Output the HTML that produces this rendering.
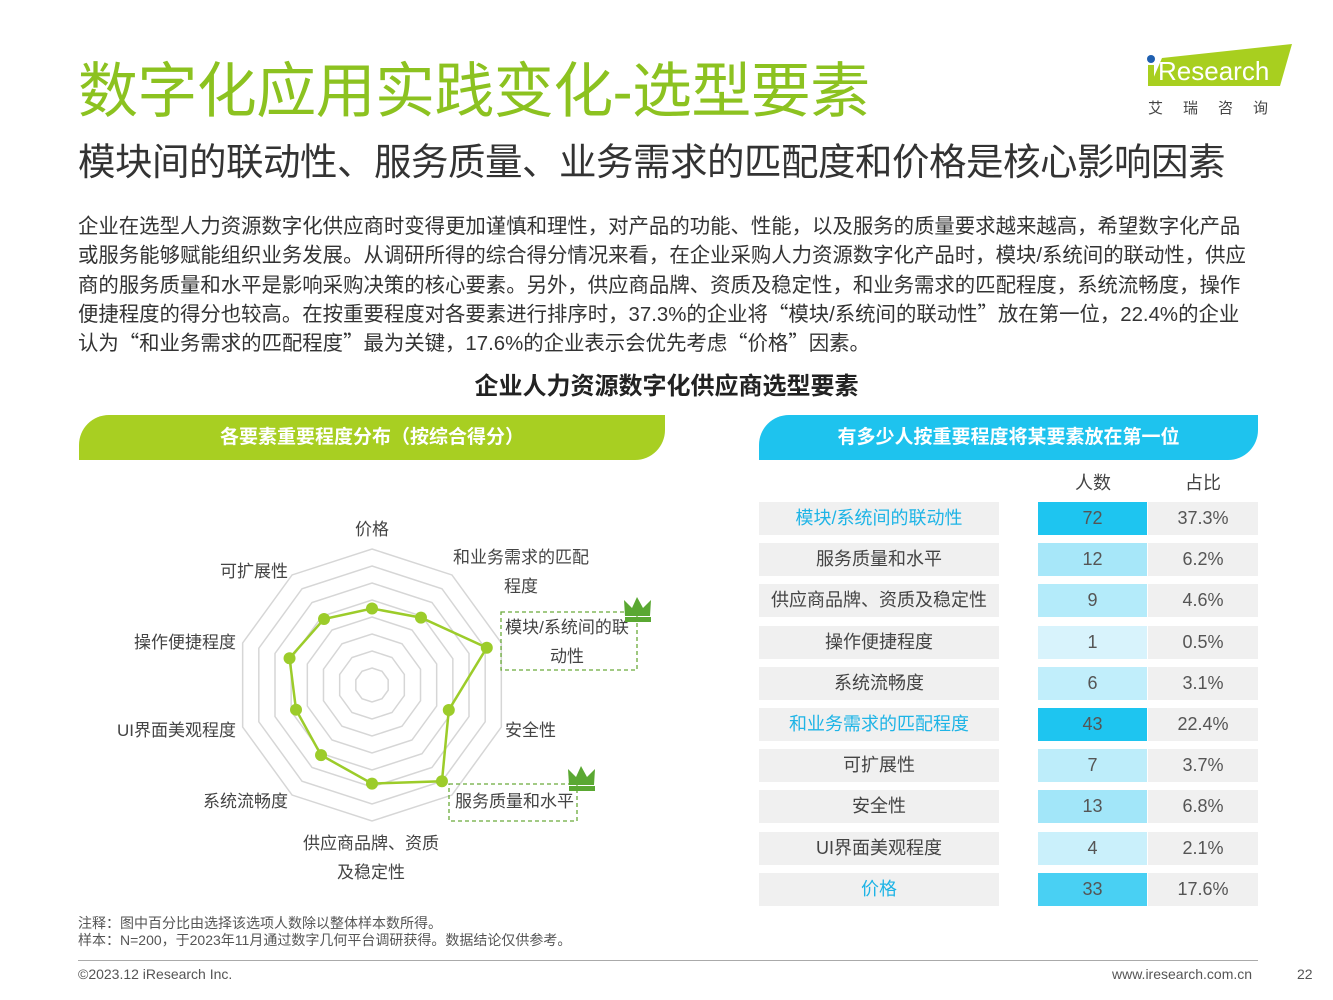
<!DOCTYPE html>
<html><head><meta charset="utf-8">
<style>
body{margin:0;width:1333px;height:1000px;background:#fff;position:relative;overflow:hidden;font-family:"Liberation Sans","Noto Sans CJK SC",sans-serif;color:#333}
.abs{position:absolute}
#title{left:78px;top:54px;font-size:60px;color:#8cc220;letter-spacing:-0.6px;white-space:nowrap;line-height:76px}
#subtitle{left:78px;top:136px;font-size:37.5px;color:#333;white-space:nowrap;line-height:52px;letter-spacing:-0.5px}
#body{left:78px;top:213px;font-size:20.4px;line-height:29.3px;color:#333;white-space:nowrap}
.q{font-family:"Noto Sans CJK SC",sans-serif;line-height:0}
#ctitle{left:0;width:1333px;top:366px;text-align:center;font-size:24px;font-weight:bold;color:#222}
.banner{height:45px;top:415px;color:#fff;font-weight:bold;font-size:19px;text-align:center;line-height:45px;border-radius:30px 0 30px 0}
.cell{position:absolute;height:33px;line-height:33px;text-align:center;font-size:18px;color:#444}
</style></head><body>
<div class="abs" id="title">数字化应用实践变化-选型要素</div>
<div class="abs" id="subtitle">模块间的联动性、服务质量、业务需求的匹配度和价格是核心影响因素</div>
<div class="abs" id="body">企业在选型人力资源数字化供应商时变得更加谨慎和理性，对产品的功能、性能，以及服务的质量要求越来越高，希望数字化产品<br>或服务能够赋能组织业务发展。从调研所得的综合得分情况来看，在企业采购人力资源数字化产品时，模块/系统间的联动性，供应<br>商的服务质量和水平是影响采购决策的核心要素。另外，供应商品牌、资质及稳定性，和业务需求的匹配程度，系统流畅度，操作<br>便捷程度的得分也较高。在按重要程度对各要素进行排序时，37.3%的企业将<span class="q">“</span>模块/系统间的联动性<span class="q">”</span>放在第一位，22.4%的企业<br>认为<span class="q">“</span>和业务需求的匹配程度<span class="q">”</span>最为关键，17.6%的企业表示会优先考虑<span class="q">“</span>价格<span class="q">”</span>因素。</div>
<div class="abs" id="ctitle">企业人力资源数字化供应商选型要素</div>

<div class="abs" style="left:1140px;top:42px;width:160px;height:80px">
<svg width="160" height="80"><polygon points="22,16 152,2 140,44 10,44" fill="#a8cf1f"/><circle cx="11" cy="17" r="4" fill="#1f5fb0"/><rect x="8" y="23" width="6" height="21" fill="#a8cf1f"/><text x="18" y="38" font-size="26" fill="#fff" font-family="Liberation Sans">Research</text><text x="8" y="71" font-size="15" fill="#444" font-family="Noto Sans CJK SC" letter-spacing="20">艾瑞咨询</text></svg>
</div>

<div class="abs banner" style="left:79px;width:586px;background:#a8cf22">各要素重要程度分布（按综合得分）</div>
<div class="abs banner" style="left:759px;width:499px;background:#1ec3ee">有多少人按重要程度将某要素放在第一位</div>

<svg class="abs" id="radar" style="left:0;top:0" width="700" height="920"></svg>

<div id="table"></div>
<div class="cell" style="left:1038px;width:110px;top:467px">人数</div>
<div class="cell" style="left:1148px;width:110px;top:467px">占比</div>

<div class="abs" style="left:78px;top:915px;font-size:14px;line-height:17px;color:#555">注释：图中百分比由选择该选项人数除以整体样本数所得。<br>样本：N=200，于2023年11月通过数字几何平台调研获得。数据结论仅供参考。</div>
<div class="abs" style="left:78px;top:960px;width:1180px;height:1px;background:#aaa"></div>
<div class="abs" style="left:78px;top:966px;font-size:14px;color:#555">©2023.12 iResearch Inc.</div>
<div class="abs" style="left:1112px;top:966px;font-size:14px;color:#555">www.iresearch.com.cn</div>
<div class="abs" style="left:1297px;top:966px;font-size:14px;color:#555">22</div>

<script>
const radarLabels=[["价格"],["和业务需求的匹配","程度"],["模块/系统间的联","动性"],["安全性"],["服务质量和水平"],["供应商品牌、资质","及稳定性"],["系统流畅度"],["UI界面美观程度"],["操作便捷程度"],["可扩展性"]];
const radarValues=[4.5,4.9,7.1,4.75,7.0,5.8,5.1,4.7,5.1,4.8];
const radarMax=8;
const tableLabels=["模块/系统间的联动性","服务质量和水平","供应商品牌、资质及稳定性","操作便捷程度","系统流畅度","和业务需求的匹配程度","可扩展性","安全性","UI界面美观程度","价格"];
const tableCounts=[72,12,9,1,6,43,7,13,4,33];
const tablePcts=["37.3%","6.2%","4.6%","0.5%","3.1%","22.4%","3.7%","6.8%","2.1%","17.6%"];
const highlight=[true,false,false,false,false,true,false,false,false,true];

const NS="http://www.w3.org/2000/svg";
const svg=document.getElementById('radar');
const cx=372,cy=685,R=136;
function pt(i,v){const a=(i*36-90)*Math.PI/180;const r=v/radarMax*R;return [cx+r*Math.cos(a),cy+r*Math.sin(a)];}
function mk(t,attrs){const e=document.createElementNS(NS,t);for(const k in attrs)e.setAttribute(k,attrs[k]);svg.appendChild(e);return e;}
for(let k=1;k<=radarMax;k++){
  const p=mk('polygon',{points:radarLabels.map((_,i)=>pt(i,k).join(',')).join(' '),fill:'none',stroke:'#d6d6d6','stroke-width':1.5});
  
  
}
const line=mk('polygon',{points:radarValues.map((v,i)=>pt(i,v).join(',')).join(' '),fill:'none',stroke:'#9ccc2a','stroke-width':2.5});


radarValues.forEach((v,i)=>{const [x,y]=pt(i,v);const c=mk('circle',{cx:x,cy:y,r:6,fill:'#9ccc2a'});
  
  
});
const labelPos=[[372,535,'middle'],[521,563,'middle'],[567,633,'middle'],[505,736,'start'],[455,807,'start'],[371,849,'middle'],[288,807,'end'],[236,736,'end'],[236,648,'end'],[288,577,'end']];
radarLabels.forEach((ls,i)=>{const [x,y,an]=labelPos[i];ls.forEach((s,j)=>{const t=mk('text',{x:x,y:y+j*29,'text-anchor':an,'font-size':17,fill:'#444','font-family':'Liberation Sans, Noto Sans CJK SC, sans-serif'});t.textContent=s;
  
  
});});
[[501,612,136,58],[449,784,128,37]].forEach(b=>{const r=mk('rect',{x:b[0],y:b[1],width:b[2],height:b[3],fill:'none',stroke:'#6aab3a','stroke-width':1.3,'stroke-dasharray':'4,3'});
  
  
});
[[638,606],[582,775]].forEach(c=>{const g=mk('polygon',{points:`${c[0]-13},${c[1]+10} ${c[0]-14},${c[1]-6} ${c[0]-6},${c[1]+2} ${c[0]-1},${c[1]-9} ${c[0]+5},${c[1]+2} ${c[0]+13},${c[1]-6} ${c[0]+12},${c[1]+10}`,fill:'#5aa832'});
  
  
  const b=mk('rect',{x:c[0]-13,y:c[1]+11,width:26,height:5,fill:'#5aa832'});
  
  
});

const tbl=document.getElementById('table');
const maxC=Math.max(...tableCounts);
function blue(v){const t=Math.min(1,v/maxC*1.6+0.05);const a=[230,247,253],b=[30,197,240];return `rgb(${a.map((x,i)=>Math.round(x+(b[i]-x)*t)).join(',')})`;}
tableLabels.forEach((l,i)=>{
  const y=502+i*41.2;
  const a=document.createElement('div');a.className='cell';a.style.cssText=`left:759px;width:240px;top:${y}px;background:#f0f0f0;color:${highlight[i]?'#1eb4e6':'#444'}`;a.textContent=l;
  
  
  tbl.appendChild(a);
  const b=document.createElement('div');b.className='cell';b.style.cssText=`left:1038px;width:109px;top:${y}px;background:${blue(tableCounts[i])};color:#555`;b.textContent=tableCounts[i];
  
  
  tbl.appendChild(b);
  const c=document.createElement('div');c.className='cell';c.style.cssText=`left:1148px;width:110px;top:${y}px;background:#f0f0f0;color:#555`;c.textContent=tablePcts[i];
  
  
  tbl.appendChild(c);
});
</script>
</body></html>
